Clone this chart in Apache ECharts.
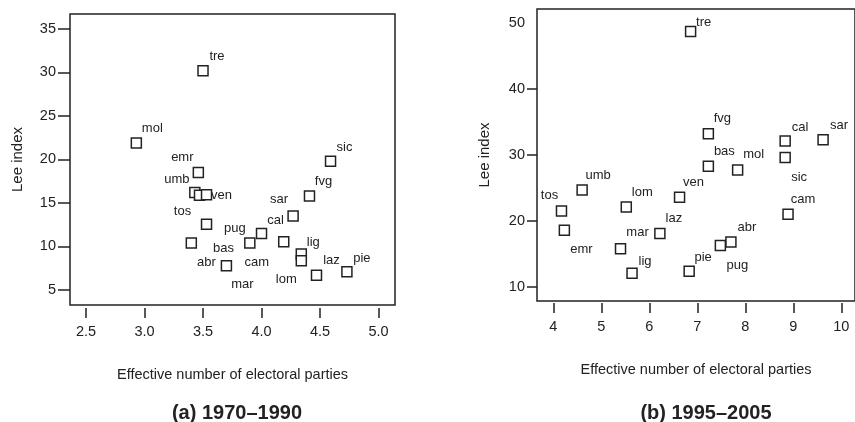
<!DOCTYPE html>
<html>
<head>
<meta charset="utf-8">
<script src="https://cdn.jsdelivr.net/npm/echarts@6/dist/echarts.min.js"></script>
<style>
  html, body { margin: 0; padding: 0; background: #fff; }
  #chart { width: 855px; height: 422px; }
</style>
</head>
<body>
<div id="chart"></div>
<script>
// (a) 1970-1990
var names70 = ['tre', 'mol', 'emr', 'umb', 'tos', 'ven', 'sic', 'fvg', 'sar', 'cal',
  'pug', 'bas', 'abr', 'mar', 'cam', 'lig', 'lom', 'laz', 'pie'];
var enp70 = [3.50, 2.93, 3.46, 3.43, 3.47, 3.53, 4.59, 4.41, 4.27, 4.00,
  3.90, 3.53, 3.40, 3.70, 4.19, 4.34, 4.34, 4.47, 4.73];
var lee70 = [30.2, 21.9, 18.5, 16.2, 15.9, 15.95, 19.8, 15.8, 13.5, 11.5,
  10.4, 12.55, 10.4, 7.8, 10.55, 9.15, 8.35, 6.7, 7.1];

// (b) 1995-2005
var names95 = ['tre', 'fvg', 'cal', 'sar', 'bas', 'mol', 'sic', 'umb', 'ven', 'lom',
  'tos', 'cam', 'emr', 'laz', 'mar', 'abr', 'pug', 'lig', 'pie'];
var enp95 = [6.86, 7.23, 8.83, 9.62, 7.23, 7.84, 8.83, 4.60, 6.63, 5.52,
  4.17, 8.89, 4.23, 6.22, 5.40, 7.70, 7.48, 5.64, 6.83];
var lee95 = [48.7, 33.2, 32.1, 32.3, 28.3, 27.7, 29.6, 24.7, 23.6, 22.1,
  21.5, 21.0, 18.6, 18.1, 15.8, 16.8, 16.3, 12.1, 12.4];

var xTicks70 = [2.5, 3.0, 3.5, 4.0, 4.5, 5.0];
var yTicks70 = [5, 10, 15, 20, 25, 30, 35];
var xTicks95 = [4, 5, 6, 7, 8, 9, 10];
var yTicks95 = [10, 20, 30, 40];
var yLabels95 = [10, 20, 30, 40, 50];

// where each region name sits next to its square (px)
var offs70 = {
  tre: [14, -14], mol: [16, -15], emr: [-16, -15], umb: [-18, -13], tos: [-17, 16],
  ven: [15, 1], sic: [14, -14], fvg: [14, -15], sar: [-14, -17], cal: [14, -13],
  pug: [-15, -15], bas: [17, 24], abr: [15, 19], mar: [16, 19], cam: [-27, 21],
  lig: [12, -11], lom: [-15, 19], laz: [15, -15], pie: [15, -13]
};
var offs95 = {
  tre: [13, -9], fvg: [14, -15], cal: [15, -14], sar: [16, -14], bas: [16, -15],
  mol: [16, -16], sic: [14, 20], umb: [16, -15], ven: [14, -15], lom: [16, -15],
  tos: [-12, -16], cam: [15, -15], emr: [17, 19], laz: [14, -15], mar: [17, -16],
  abr: [16, -15], pug: [17, 20], lig: [13, -12], pie: [14, -14]
};

var sans = '"Liberation Sans", Arial, Helvetica, sans-serif';
var ink = '#222';

function points(names, xs, ys, offs) {
  return names.map(function (n, i) {
    return {
      name: n,
      value: [xs[i], ys[i]],
      label: { offset: offs[n] }
    };
  });
}

function frameX(idx, min, max, ticks, dec, off, name) {
  return {
    gridIndex: idx, type: 'value', min: min, max: max,
    offset: off,
    axisLine: { show: false },
    splitLine: { show: false },
    axisTick: { show: true, length: 10, customValues: ticks, lineStyle: { color: ink, width: 1.5 } },
    axisLabel: {
      customValues: ticks, margin: 16, color: ink, fontFamily: sans, fontSize: 14.5,
      formatter: function (v) { return dec ? v.toFixed(1) : String(v); }
    },
    name: name, nameLocation: 'middle', nameGap: 59,
    nameTextStyle: { color: ink, fontFamily: sans, fontSize: 14.5 }
  };
}

function frameY(idx, min, max, ticks, labels, tickLen, margin) {
  return {
    gridIndex: idx, type: 'value', min: min, max: max,
    axisLine: { show: false },
    splitLine: { show: false },
    axisTick: { show: true, length: tickLen, customValues: ticks, lineStyle: { color: ink, width: 1.5 } },
    axisLabel: { customValues: labels, margin: margin, color: ink, fontFamily: sans, fontSize: 14.5 },
    name: 'Lee index', nameLocation: 'middle', nameGap: 45, nameRotate: 90,
    nameTextStyle: { color: ink, fontFamily: sans, fontSize: 15 }
  };
}

function scatter(idx, data) {
  return {
    type: 'scatter', xAxisIndex: idx, yAxisIndex: idx,
    symbol: 'rect', symbolSize: 10,
    itemStyle: { color: '#fff', borderColor: ink, borderWidth: 1.5, opacity: 1 },
    label: {
      show: true, position: 'inside', formatter: '{b}',
      color: ink, fontFamily: sans, fontSize: 13
    },
    emphasis: { disabled: true },
    data: data
  };
}

var titleStyle = { color: ink, fontFamily: sans, fontWeight: 'bold', fontSize: 20 };

var chart = echarts.init(document.getElementById('chart'), null, { renderer: 'canvas' });
chart.setOption({
  backgroundColor: '#fff',
  animation: false,
  title: [
    { text: '(a) 1970–1990', left: 232, top: 398, textAlign: 'center', textStyle: titleStyle },
    { text: '(b) 1995–2005', left: 701, top: 398, textAlign: 'center', textStyle: titleStyle }
  ],
  grid: [
    { left: 70, top: 14, width: 325, height: 291, show: true, borderColor: ink, borderWidth: 1.5, backgroundColor: 'transparent' },
    { left: 537, top: 9, width: 324, height: 292, show: true, borderColor: ink, borderWidth: 1.5, backgroundColor: 'transparent' }
  ],
  xAxis: [
    frameX(0, 2.363, 5.141, xTicks70, true, 3, 'Effective number of electoral parties'),
    frameX(1, 3.66, 10.285, xTicks95, false, 2, 'Effective number of electoral parties')
  ],
  yAxis: [
    frameY(0, 3.276, 36.72, yTicks70, yTicks70, 12, 14),
    frameY(1, 7.88, 52.1, yTicks95, yLabels95, 10, 12)
  ],
  series: [
    scatter(0, points(names70, enp70, lee70, offs70)),
    scatter(1, points(names95, enp95, lee95, offs95))
  ]
});
</script>
</body>
</html>
